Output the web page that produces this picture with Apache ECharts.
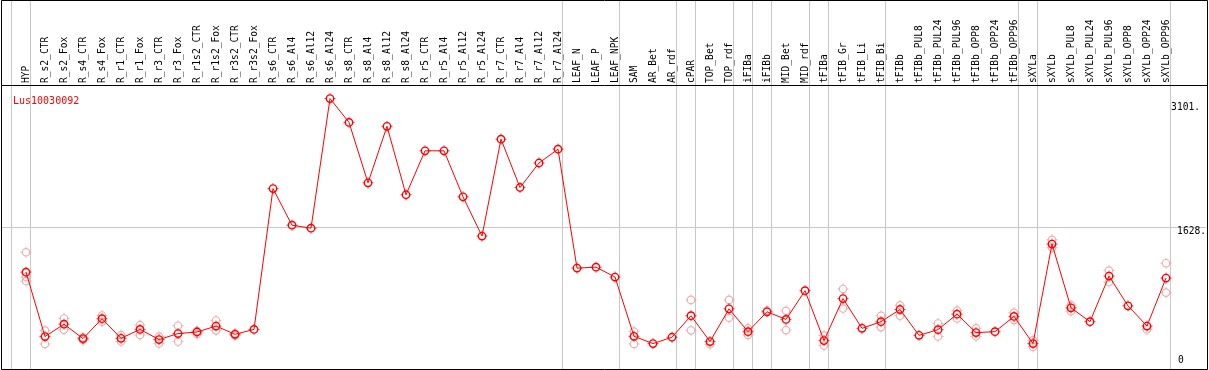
<!DOCTYPE html>
<html>
<head>
<meta charset="utf-8">
<script src="https://cdn.jsdelivr.net/npm/echarts@6/dist/echarts.min.js"></script>
<style>
html,body{margin:0;padding:0;background:#fff;}
#c{width:1209px;height:370px;}
</style>
</head>
<body>
<div id="c"></div>
<script>
const title = 'Lus10030092';
const categories = ['HYP','R_s2_CTR','R_s2_Fox','R_s4_CTR','R_s4_Fox','R_r1_CTR','R_r1_Fox','R_r3_CTR','R_r3_Fox','R_r1s2_CTR','R_r1s2_Fox','R_r3s2_CTR','R_r3s2_Fox','R_s6_CTR','R_s6_Al4','R_s6_Al12','R_s6_Al24','R_s8_CTR','R_s8_Al4','R_s8_Al12','R_s8_Al24','R_r5_CTR','R_r5_Al4','R_r5_Al12','R_r5_Al24','R_r7_CTR','R_r7_Al4','R_r7_Al12','R_r7_Al24','LEAF_N','LEAF_P','LEAF_NPK','SAM','AR_Bet','AR_rdf','cPAR','TOP_Bet','TOP_rdf','iFIBa','iFIBb','MID_Bet','MID_rdf','tFIBa','tFIB_Gr','tFIB_Li','tFIB_Bi','tFIBb','tFIBb_PUL8','tFIBb_PUL24','tFIBb_PUL96','tFIBb_OPP8','tFIBb_OPP24','tFIBb_OPP96','sXYLa','sXYLb','sXYLb_PUL8','sXYLb_PUL24','sXYLb_PUL96','sXYLb_OPP8','sXYLb_OPP24','sXYLb_OPP96'];
// mean expression
const meanValues = [1118,382,524,359,586,362,464,348,416,434,502,408,464,2073,1654,1620,3101,2829,2138,2784,2002,2504,2504,1979,1530,2637,2085,2365,2523,1164,1175,1062,385,302,374,620,325,699,438,665,578,906,336,816,476,552,691,396,461,638,427,438,612,302,1439,710,552,1073,733,502,1050];
// replicate values (null = not visible / coincident)
const rep1 = [1345,450,589,370,623,400,513,382,506,445,566,416,null,null,null,null,null,null,null,null,null,null,null,null,null,null,null,null,null,null,null,null,438,null,null,801,294,801,476,680,676,null,393,926,null,620,740,null,532,680,476,null,654,340,1488,740,null,1136,null,464,1220];
const rep2 = [1062,298,461,343,552,325,400,302,325,411,453,393,null,null,null,null,null,null,null,null,null,null,null,null,null,null,null,null,null,null,null,null,298,null,null,453,null,597,400,null,456,null,280,702,null,490,620,null,382,589,385,null,570,264,1397,672,null,1005,null,null,884];
const rep3 = [1016,null,null,null,null,null,null,null,null,null,null,null,null,null,null,null,null,null,null,null,null,null,null,null,null,null,null,null,null,null,null,null,null,null,null,null,null,null,null,null,null,null,null,null,null,null,null,null,null,null,null,null,null,null,null,null,null,null,null,null,null];
// indices of categories after which a group separator is drawn (-1 = before first)
const groupEnds = [-1,0,28,31,34,35,37,38,39,41,42,45,52,53,60];
// right-hand tick labels
const yTicks = [0,1628,3101];
const yTickLabels = ['0','1628.','3101.'];
const yMax = 3256;

const FONT = 'DejaVu Sans Mono';
// circle marker with four small ticks (drawn as two symbols)
const tickPath = 'path://M5.5,0L5.5,1.4M5.5,9.6L5.5,11M0,5.5L1.4,5.5M9.6,5.5L11,5.5';

const repData = [];
[rep1, rep2, rep3].forEach(arr => arr.forEach((v, i) => { if (v != null) repData.push([i, v]); }));
const meanData = meanValues.map((v, i) => [i, v]);

const chart = echarts.init(document.getElementById('c'), null, {renderer: 'canvas'});
chart.setOption({
  animation: false,
  backgroundColor: '#fff',
  title: {
    text: title, left: 8, top: 91,
    textStyle: {color: '#ff0000', fontSize: 10, fontWeight: 'normal', fontFamily: FONT}
  },
  grid: [
    {left: 26, width: 1140, top: 85, height: 287},
    {left: 2, width: 1205, top: 85, height: 287},
    {left: 7, width: 1159, top: 0, height: 369}
  ],
  xAxis: [
    {
      type: 'category', gridIndex: 0, data: categories, boundaryGap: false, position: 'top',
      axisLine: {show: false}, axisTick: {show: false}, splitLine: {show: false},
      axisLabel: {interval: 0, rotate: 90, margin: 2, color: '#000', fontSize: 9.6, fontFamily: FONT}
    },
    {type: 'value', gridIndex: 1, min: 0, max: 1, show: false},
    {type: 'value', gridIndex: 2, min: -1, max: 60, show: false}
  ],
  yAxis: [
    {type: 'value', gridIndex: 0, min: 0, max: yMax, show: false},
    {
      type: 'value', gridIndex: 1, min: 0, max: yMax, interval: yMax / 2, position: 'right',
      axisLine: {show: false}, axisTick: {show: false},
      splitLine: {show: true, lineStyle: {color: '#c8c8c8', width: 1}},
      axisLabel: {
        inside: true, margin: 35, align: 'left', verticalAlign: 'middle',
        customValues: yTicks,
        color: '#000', fontSize: 9.6, fontFamily: FONT,
        formatter: function (v) {
          const idx = yTicks.indexOf(v);
          if (idx < 0) return '';
          return '{t' + idx + '|' + yTickLabels[idx] + '}';
        },
        rich: {
          t0: {padding: [0, 0, 20, 7], color: '#000', fontSize: 9.6, fontFamily: FONT},
          t1: {padding: [8.4, 0, 0, 6], color: '#000', fontSize: 9.6, fontFamily: FONT},
          t2: {padding: [18.8, 0, 0, 0], color: '#000', fontSize: 9.6, fontFamily: FONT}
        }
      }
    },
    {type: 'value', gridIndex: 2, min: 0, max: 1, show: false}
  ],
  series: [
    {
      type: 'custom', xAxisIndex: 2, yAxisIndex: 2, silent: true, clip: false, z: 1,
      data: groupEnds.map(e => [e, 0]),
      encode: {x: 0, y: 1},
      renderItem: function (params, api) {
        const x = Math.floor(api.coord([api.value(0) + 0.24, 0])[0]) + 0.5;
        const cs = params.coordSys;
        return {type: 'line', shape: {x1: x, y1: cs.y, x2: x, y2: cs.y + cs.height},
          style: {stroke: '#c8c8c8', lineWidth: 1}};
      }
    },
    {
      type: 'scatter', xAxisIndex: 0, yAxisIndex: 0, data: repData, z: 3, silent: true,
      symbol: 'circle', symbolSize: 7.4,
      itemStyle: {color: 'rgba(0,0,0,0)', borderColor: '#eb9c9c', borderWidth: 1.2}
    },
    {
      type: 'scatter', xAxisIndex: 0, yAxisIndex: 0, data: repData, z: 3, silent: true,
      symbol: tickPath, symbolSize: 11,
      itemStyle: {color: 'rgba(0,0,0,0)', borderColor: '#eb9c9c', borderWidth: 1}
    },
    {
      type: 'line', xAxisIndex: 0, yAxisIndex: 0, data: meanValues, z: 5, silent: true,
      showAllSymbol: true, symbol: 'circle', symbolSize: 7.4,
      lineStyle: {color: '#ff0000', width: 1},
      itemStyle: {color: 'rgba(0,0,0,0)', borderColor: '#ff0000', borderWidth: 1.4}
    },
    {
      type: 'scatter', xAxisIndex: 0, yAxisIndex: 0, data: meanData, z: 6, silent: true,
      symbol: tickPath, symbolSize: 11,
      itemStyle: {color: 'rgba(0,0,0,0)', borderColor: '#ff0000', borderWidth: 1}
    }
  ],
  graphic: [
    {type: 'rect', z: 100, silent: true, shape: {x: 1.5, y: 0.5, width: 1206, height: 369},
      style: {fill: 'none', stroke: '#000', lineWidth: 1}},
    {type: 'line', z: 100, silent: true, shape: {x1: 1.5, y1: 85.5, x2: 1207.5, y2: 85.5},
      style: {stroke: '#000', lineWidth: 1}}
  ]
});
</script>
</body>
</html>
